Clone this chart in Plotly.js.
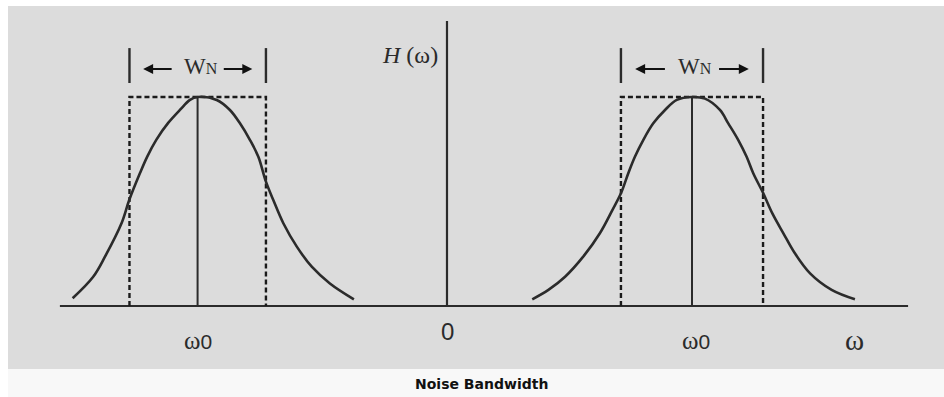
<!DOCTYPE html>
<html>
<head>
<meta charset="utf-8">
<script src="https://cdn.plot.ly/plotly-3.0.1.min.js"></script>
<style>html,body{margin:0;padding:0;background:#fff;}#chart{width:944px;height:397px;}</style>
</head>
<body>
<div id="chart"></div>
<script>
// ---- Data (ω in units of ω0, H normalised to peak = 1) ----
const leftCurveX  = [-1.528, -1.444, -1.396, -1.328, -1.297, -1.253, -1.223, -1.186, -1.138, -1.090, -1.049, -1.018, -0.940, -0.886, -0.845, -0.804, -0.770, -0.739, -0.709, -0.668, -0.613, -0.552, -0.478, -0.380];
const leftCurveY  = [ 0.037,  0.140,  0.236,  0.397,  0.507,  0.636,  0.716,  0.796,  0.876,  0.938,  0.986,  1.000,  0.986,  0.938,  0.874,  0.794,  0.714,  0.595,  0.507,  0.396,  0.284,  0.188,  0.108,  0.032];
const rightCurveX = [ 0.348,  0.414,  0.482,  0.556,  0.624,  0.675,  0.710,  0.740,  0.767,  0.801,  0.842,  0.890,  0.938,  1.000,  1.053,  1.114,  1.148,  1.189,  1.223,  1.250,  1.291,  1.328,  1.373,  1.420,  1.482,  1.570,  1.665];
const rightCurveY = [ 0.032,  0.077,  0.140,  0.236,  0.348,  0.459,  0.539,  0.635,  0.714,  0.794,  0.874,  0.938,  0.986,  1.000,  0.992,  0.938,  0.874,  0.794,  0.714,  0.635,  0.539,  0.443,  0.348,  0.252,  0.156,  0.077,  0.032];
const peakCenters = [-1.018, 1.000];
const peakHeight = 1.0;
const bandLeft  = [-1.296, -0.739];   // W_N edges around left ω0
const bandRight = [ 0.710,  1.290];   // W_N edges around right ω0
const axisSpanX = [-1.580, 1.882];
const axisTopY = 1.364;
const tickPositions = [-1.016, 0.004, 1.018, 1.665];
const tickLabels = ['ω<span style="font-family:Liberation Sans, Arial, sans-serif;font-size:21px">0</span>',
                    '<span style="font-family:Liberation Sans, Arial, sans-serif;font-size:24px">0</span>',
                    'ω<span style="font-family:Liberation Sans, Arial, sans-serif;font-size:21px">0</span>',
                    '<span style="font-size:29px">ω</span>'];
const wnLabel = 'W<span style="font-size:16px">N</span>';
const yLabel = '<i>H</i> (ω)';
const caption = 'Noise Bandwidth';

// ---- Drawing ----
const dark = '#2b2b2b';
const traces = [];
function line(x, y, opts) {
  traces.push(Object.assign({type:'scatter', mode:'lines', x:x, y:y, hoverinfo:'skip', showlegend:false,
    line:{color:dark, width:2}}, opts || {}));
}
// axes
line(axisSpanX, [0, 0], {line:{color:dark, width:2.2}});
line([0, 0], [0, axisTopY], {line:{color:dark, width:2.2}});
// dashed bandwidth rectangles
[bandLeft, bandRight].forEach(b => {
  line([b[0], b[0], b[1], b[1]], [0, peakHeight, peakHeight, 0], {line:{color:'#1a1a1a', width:2.4, dash:'5px,3px'}});
});
// center lines
peakCenters.forEach(c => line([c, c], [0, peakHeight], {line:{color:dark, width:2}}));
// curves
line(leftCurveX, leftCurveY, {line:{color:dark, width:2.6, shape:'spline', smoothing:1.0}});
line(rightCurveX, rightCurveY, {line:{color:dark, width:2.6, shape:'spline', smoothing:1.0}});
// W_N bars
const barLow = 1.067, barHigh = 1.234;
[bandLeft, bandRight].forEach(b => {
  b.forEach(e => line([e, e], [barLow, barHigh], {line:{color:dark, width:2.4}}));
});

const annotations = [];
const serif = 'Liberation Serif, Times New Roman, serif';
const arrowY = 1.134;
[bandLeft, bandRight].forEach((b, i) => {
  const c = peakCenters[i] + 0.012;
  const w = b[1] - b[0];
  annotations.push({x:c, y:arrowY + 0.01, xref:'x', yref:'y', text:wnLabel, showarrow:false,
    font:{family:serif, size:23, color:dark}, xanchor:'center', yanchor:'middle'});
  annotations.push({x:b[0] + 0.10*w, y:arrowY, ax:b[0] + 0.32*w, ay:arrowY, axref:'x', ayref:'y',
    xref:'x', yref:'y', text:'', showarrow:true, arrowhead:2, arrowsize:1, arrowwidth:2, arrowcolor:'#111', standoff:0, startstandoff:0});
  annotations.push({x:b[1] - 0.10*w, y:arrowY, ax:b[1] - 0.32*w, ay:arrowY, axref:'x', ayref:'y',
    xref:'x', yref:'y', text:'', showarrow:true, arrowhead:2, arrowsize:1, arrowwidth:2, arrowcolor:'#111', standoff:0, startstandoff:0});
});
tickPositions.forEach((p, i) => {
  annotations.push({x:p, y:(i === 1 ? -0.122 : -0.163), xref:'x', yref:'y', text:tickLabels[i], showarrow:false,
    font:{family:serif, size:25, color:dark}, xanchor:'center', yanchor:'middle'});
});
annotations.push({x:-0.029, y:1.201, xref:'x', yref:'y', text:yLabel, showarrow:false,
  font:{family:serif, size:24, color:dark}, xanchor:'right', yanchor:'middle'});
annotations.push({x:0.506, y:-0.0413, xref:'paper', yref:'paper', text:'<b>' + caption + '</b>', showarrow:false,
  font:{family:'DejaVu Sans, Verdana, sans-serif', size:14, color:'#111'}, xanchor:'center', yanchor:'middle'});

const layout = {
  width:944, height:397,
  margin:{l:8, r:0, t:6, b:28, pad:0},
  paper_bgcolor:'#ffffff',
  plot_bgcolor:'#dcdcdc',
  xaxis:{range:[-1.7918, 2.0286], visible:false, fixedrange:true},
  yaxis:{range:[-0.3014, 1.4354], visible:false, fixedrange:true},
  showlegend:false,
  shapes:[{type:'rect', xref:'paper', yref:'paper', x0:0, x1:1, y0:-0.0771, y1:0, fillcolor:'#f8f8f8', line:{width:0}, layer:'below'}],
  annotations:annotations
};
Plotly.newPlot('chart', traces, layout, {displayModeBar:false, staticPlot:true});
</script>
</body>
</html>
